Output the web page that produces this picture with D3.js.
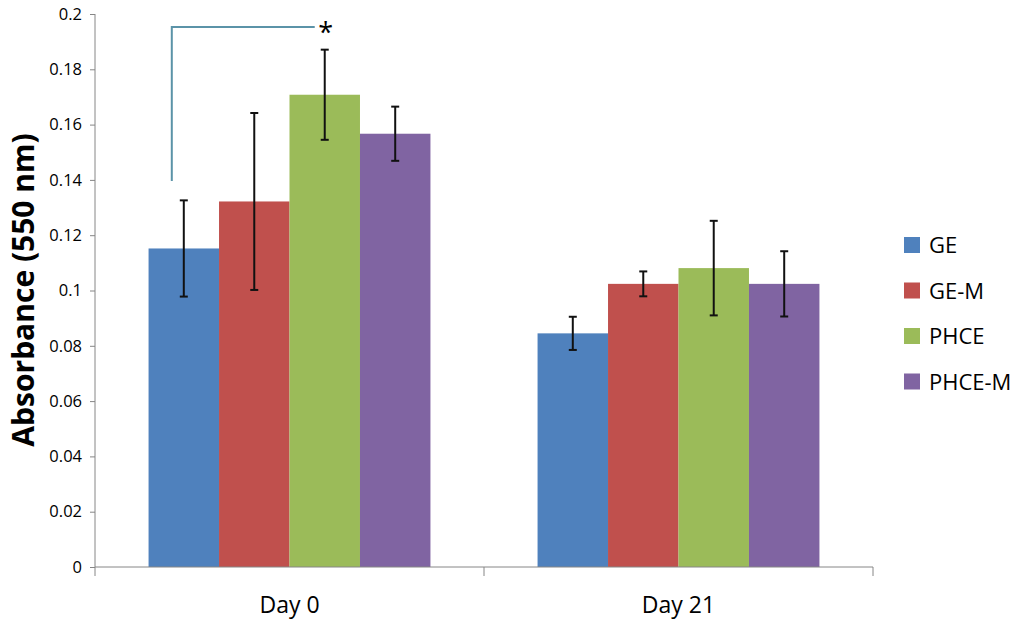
<!DOCTYPE html>
<html>
<head>
<meta charset="UTF-8">
<script src="https://d3js.org/d3.v7.min.js"></script>
<style>
  html, body { margin: 0; padding: 0; background: #fff; }
  svg text { font-family: 'Open Sans', sans-serif; fill: #000; }
</style>
</head>
<body>
<svg id="chart" width="1024" height="624"></svg>
<script>
// --- data ---
const days = ["Day 0", "Day 21"];
const groups = ["GE", "GE-M", "PHCE", "PHCE-M"];
const colors = ["#4F81BD", "#C0504D", "#9BBB59", "#8064A2"];
const means = [
  [0.1152, 0.1322, 0.1708, 0.1567],   // Day 0
  [0.0845, 0.1024, 0.1081, 0.1024]    // Day 21
];
const errors = [
  [0.0174, 0.0320, 0.0163, 0.0098],
  [0.0060, 0.0045, 0.0171, 0.0118]
];
const yTicks = [0, 0.02, 0.04, 0.06, 0.08, 0.1, 0.12, 0.14, 0.16, 0.18, 0.2];
// significance bracket: from GE (Day 0) to PHCE (Day 0)
const bracket = { day: "Day 0", from: "GE", to: "PHCE", low: 0.1396, high: 0.1953, label: "*" };

const svg = d3.select("#chart");
const margin = { left: 95, right: 151, top: 14, bottom: 57 };
const W = 1024, H = 624;

const x = d3.scaleBand().domain(days).range([margin.left, W - margin.right]).paddingInner(0).paddingOuter(0);
const gx = d3.scaleBand().domain(groups).range([0, x.bandwidth()]).paddingOuter(0.76).paddingInner(0);
const y = d3.scaleLinear().domain([0, 0.2]).range([H - margin.bottom, margin.top]);

// axes
const yAxis = svg.append("g")
  .attr("transform", `translate(${margin.left},0)`)
  .call(d3.axisLeft(y).tickValues(yTicks).tickSize(5).tickPadding(8).tickFormat(d => d3.format("")(+d.toFixed(2))));
yAxis.selectAll("path, line").attr("stroke", "#868686");
yAxis.select(".domain").attr("d", `M0,${y(0)}V${y(0.2)}`);
yAxis.selectAll("text").attr("font-size", 16.5).attr("fill", "#000").style("font-family", "'Open Sans', sans-serif");

// bars
const dayG = svg.append("g").selectAll("g").data(days).join("g")
  .attr("transform", d => `translate(${x(d)},0)`);

dayG.each(function(day, i) {
  const g = d3.select(this);
  groups.forEach((grp, j) => {
    const v = means[i][j], e = errors[i][j];
    g.append("rect")
      .attr("x", gx(grp)).attr("width", gx.bandwidth())
      .attr("y", y(v)).attr("height", y(0) - y(v))
      .attr("fill", colors[j]);
    const cx = gx(grp) + gx.bandwidth() / 2;
    g.append("line").attr("x1", cx).attr("x2", cx).attr("y1", y(v - e)).attr("y2", y(v + e))
      .attr("stroke", "#111").attr("stroke-width", 2);
    [v - e, v + e].forEach(t => g.append("line")
      .attr("x1", cx - 4).attr("x2", cx + 4).attr("y1", y(t)).attr("y2", y(t))
      .attr("stroke", "#111").attr("stroke-width", 2));
  });
});

// x axis drawn over bars
const xAxisG = svg.append("g").attr("transform", `translate(0,${y(0)})`);
xAxisG.append("line").attr("x1", margin.left).attr("x2", W - margin.right).attr("stroke", "#868686");
[...days.map(d => x(d)), x(days[days.length - 1]) + x.bandwidth()].forEach(px =>
  xAxisG.append("line").attr("x1", px).attr("x2", px).attr("y1", 0).attr("y2", 9).attr("stroke", "#868686"));
xAxisG.selectAll("text.day").data(days).join("text")
  .attr("class", "day")
  .attr("x", d => x(d) + x.bandwidth() / 2).attr("y", 46)
  .attr("text-anchor", "middle").attr("font-size", 23).text(d => d);

// significance bracket
const bx1 = x(bracket.day) + gx(bracket.from) + gx.bandwidth() / 2 - 12;
const bx2 = x(bracket.day) + gx(bracket.to) + gx.bandwidth() / 2 - 10;
svg.append("path")
  .attr("d", `M${bx1},${y(bracket.low)}V${y(bracket.high)}H${bx2}`)
  .attr("fill", "none").attr("stroke", "#5B93A8").attr("stroke-width", 2);
svg.append("text").attr("x", bx2 + 11).attr("y", y(bracket.high) + 15)
  .attr("text-anchor", "middle").attr("font-size", 27).text(bracket.label);

// y title
svg.append("text")
  .attr("transform", `translate(34,290) rotate(-90)`)
  .attr("text-anchor", "middle").attr("font-size", 30).attr("font-weight", "bold")
  .text("Absorbance (550 nm)");

// legend
const legend = svg.append("g").attr("transform", "translate(904,245)");
groups.forEach((grp, j) => {
  const row = legend.append("g").attr("transform", `translate(0,${j * 45.5})`);
  row.append("rect").attr("x", 0).attr("y", -8).attr("width", 16).attr("height", 16).attr("fill", colors[j]);
  row.append("text").attr("x", 25).attr("y", 8).attr("font-size", 22).text(grp);
});
</script>
</body>
</html>
